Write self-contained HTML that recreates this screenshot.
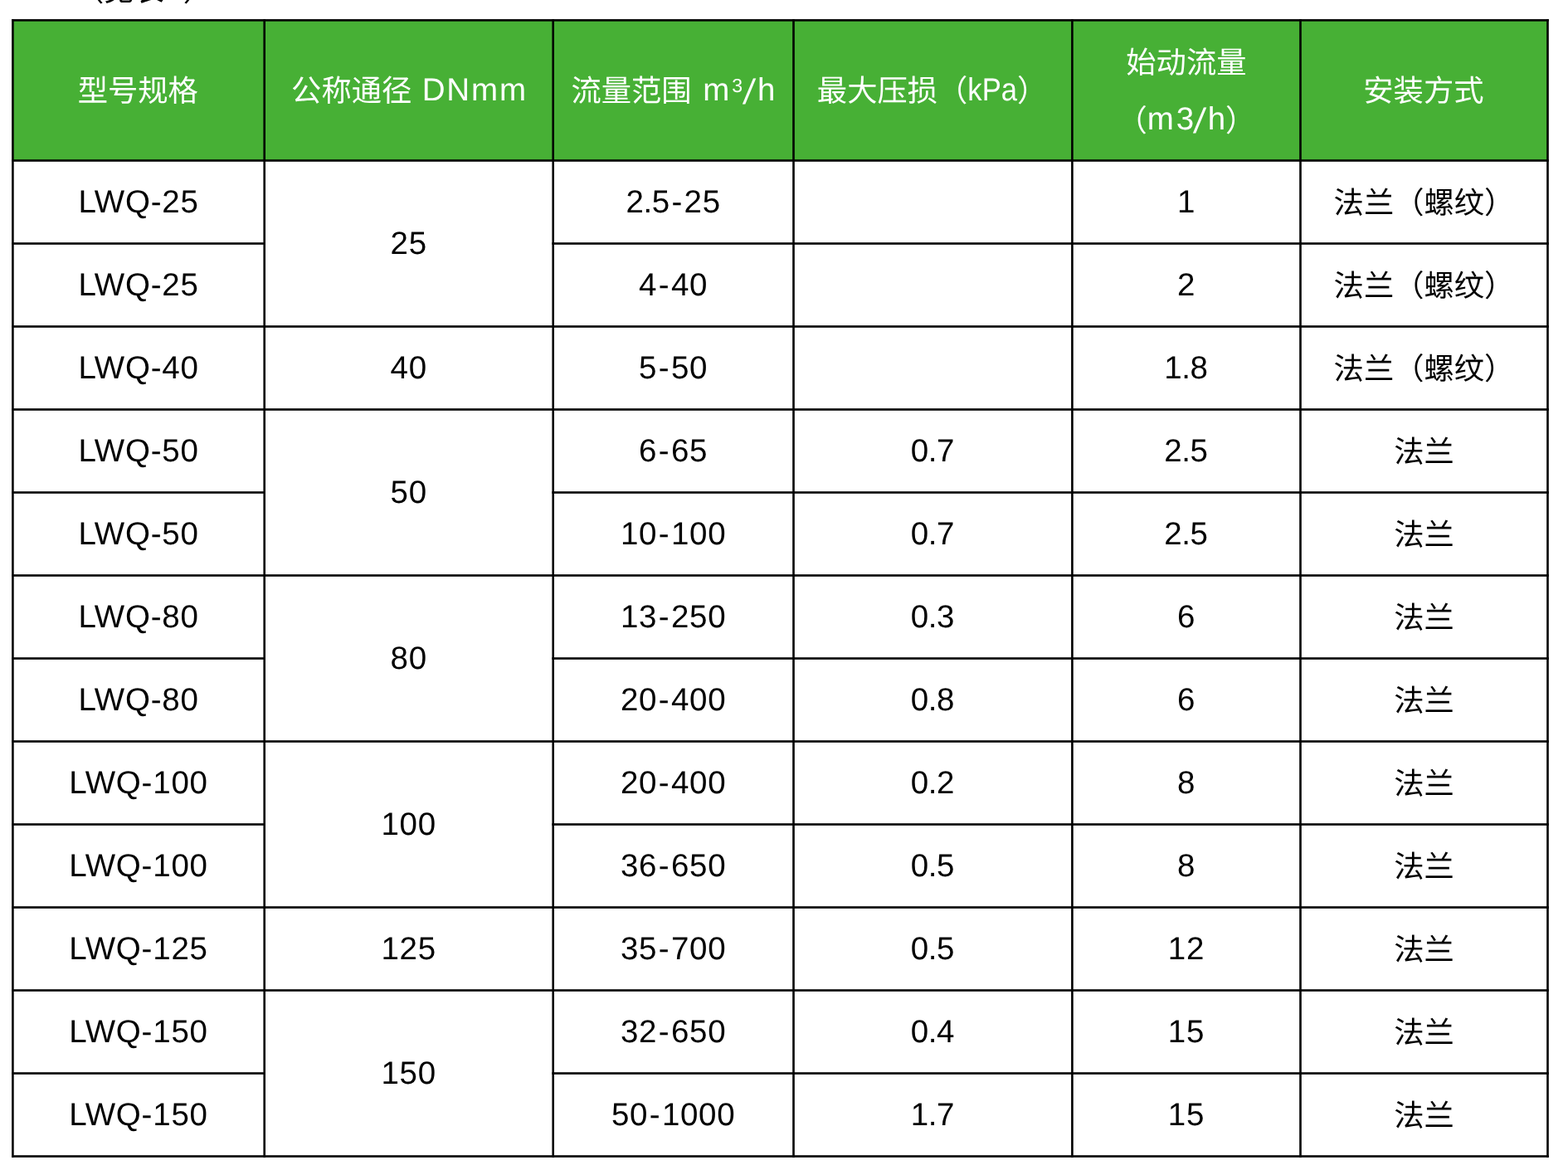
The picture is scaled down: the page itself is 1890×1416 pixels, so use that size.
<!DOCTYPE html>
<html lang="zh-CN">
<head>
<meta charset="utf-8">
<title>LWQ 气体涡轮流量计规格表</title>
<style>
html,body{margin:0;padding:0;background:#fff}
body{position:relative;width:1890px;height:1416px;overflow:hidden;font-family:"Liberation Sans",sans-serif;color:#000;font-size:38.5px;line-height:70px;text-rendering:geometricPrecision}
.cj{display:inline-block;position:relative;vertical-align:-1px;line-height:46px;font-size:36.3px;letter-spacing:0;white-space:nowrap;font-family:"Liberation Sans","Noto Sans CJK SC",sans-serif}
.note{position:absolute;left:89px;top:-48.00px;margin:0;white-space:nowrap;line-height:70px}
table,.note{will-change:transform}
table{position:absolute;left:15.00px;top:24.00px;width:1850.50px;border-collapse:collapse;border-spacing:0;table-layout:fixed}
th,td{padding:0;margin:0;border:0;text-align:center;vertical-align:middle;font-weight:normal;white-space:nowrap;overflow:visible}
thead tr{height:169.50px}
tbody tr{height:100px}
th{background:#47b035;color:#fff}
tr>:first-child{padding-left:0.40px}
thead th{padding-top:0.40px}
.t{letter-spacing:0.8px;margin-right:-0.1px;position:relative;top:0.3px}
.n{letter-spacing:0.7px;margin-right:-0.1px}
.hy{margin:0 1.6px}
.dot{margin:0 -1.2px}
.l{position:relative;top:0.2px}
.sl{display:inline-block;font-size:42px;line-height:0;position:relative;top:3.6px;letter-spacing:0;transform:skewX(-8.5deg)}
td .cj{top:0.5px}
th .cj{top:0.2px}
th.two .cj{top:1px}
.note .cj{top:0.9px}
.c1{margin-right:1.6px}
.c4{margin-right:1.6px}
.c6{margin-right:1.2px}
.l1{letter-spacing:1.87px;margin-left:12.4px;margin-right:-1.65px}
.l2{letter-spacing:0;margin-left:13.6px;margin-right:0.4px}
.l2 sup{margin:0 2.35px 0 2.9px}
.l2 .sl{margin-right:4px}
.l3{display:inline-block;transform:scaleX(.9);margin:0 -3.3px;letter-spacing:0}
.l4{letter-spacing:2.9px;margin-right:-2.9px}
.l4 .sl{letter-spacing:0;margin-left:-1.9px;margin-right:3.8px}
.l5{letter-spacing:0;margin-right:1.5px}
sup{font-size:23px;line-height:0;vertical-align:10.2px}
svg.grid{position:absolute;left:0;top:0;width:1890px;height:1416px;pointer-events:none}
</style>
</head>
<body>
<p class="note"><span class="cj">（见表</span><span class="l l5">1</span><span class="cj">）</span></p>
<table>
<colgroup><col style="width:303.70px"><col style="width:348.00px"><col style="width:289.80px"><col style="width:335.90px"><col style="width:275.10px"><col style="width:298.00px"></colgroup>
<thead>
<tr><th><span class="cj c1">型号规格</span></th><th><span class="cj">公称通径</span><span class="l l1">DNmm</span></th><th><span class="cj">流量范围</span><span class="l l2">m<sup>3</sup><span class="sl">/</span>h</span></th><th><span class="cj">最大压损（</span><span class="l l3">kPa</span><span class="cj c4">）</span></th><th class="two"><span class="cj">始动流量</span><br><span class="cj">（</span><span class="l l4">m3<span class="sl">/</span>h</span><span class="cj">）</span></th><th><span class="cj c6">安装方式</span></th></tr>
</thead>
<tbody>
<tr><td><span class="t">LWQ-25</span></td><td rowspan="2"><span class="t">25</span></td><td><span class="t n">2<span class="dot">.</span>5<span class="hy">-</span>25</span></td><td></td><td><span class="t n">1</span></td><td><span class="cj">法兰（螺纹）</span></td></tr>
<tr><td><span class="t">LWQ-25</span></td><td><span class="t n">4<span class="hy">-</span>40</span></td><td></td><td><span class="t n">2</span></td><td><span class="cj">法兰（螺纹）</span></td></tr>
<tr><td><span class="t">LWQ-40</span></td><td><span class="t">40</span></td><td><span class="t n">5<span class="hy">-</span>50</span></td><td></td><td><span class="t n">1<span class="dot">.</span>8</span></td><td><span class="cj">法兰（螺纹）</span></td></tr>
<tr><td><span class="t">LWQ-50</span></td><td rowspan="2"><span class="t">50</span></td><td><span class="t n">6<span class="hy">-</span>65</span></td><td><span class="t n">0<span class="dot">.</span>7</span></td><td><span class="t n">2<span class="dot">.</span>5</span></td><td><span class="cj">法兰</span></td></tr>
<tr><td><span class="t">LWQ-50</span></td><td><span class="t n">10<span class="hy">-</span>100</span></td><td><span class="t n">0<span class="dot">.</span>7</span></td><td><span class="t n">2<span class="dot">.</span>5</span></td><td><span class="cj">法兰</span></td></tr>
<tr><td><span class="t">LWQ-80</span></td><td rowspan="2"><span class="t">80</span></td><td><span class="t n">13<span class="hy">-</span>250</span></td><td><span class="t n">0<span class="dot">.</span>3</span></td><td><span class="t n">6</span></td><td><span class="cj">法兰</span></td></tr>
<tr><td><span class="t">LWQ-80</span></td><td><span class="t n">20<span class="hy">-</span>400</span></td><td><span class="t n">0<span class="dot">.</span>8</span></td><td><span class="t n">6</span></td><td><span class="cj">法兰</span></td></tr>
<tr><td><span class="t">LWQ-100</span></td><td rowspan="2"><span class="t">100</span></td><td><span class="t n">20<span class="hy">-</span>400</span></td><td><span class="t n">0<span class="dot">.</span>2</span></td><td><span class="t n">8</span></td><td><span class="cj">法兰</span></td></tr>
<tr><td><span class="t">LWQ-100</span></td><td><span class="t n">36<span class="hy">-</span>650</span></td><td><span class="t n">0<span class="dot">.</span>5</span></td><td><span class="t n">8</span></td><td><span class="cj">法兰</span></td></tr>
<tr><td><span class="t">LWQ-125</span></td><td><span class="t">125</span></td><td><span class="t n">35<span class="hy">-</span>700</span></td><td><span class="t n">0<span class="dot">.</span>5</span></td><td><span class="t n">12</span></td><td><span class="cj">法兰</span></td></tr>
<tr><td><span class="t">LWQ-150</span></td><td rowspan="2"><span class="t">150</span></td><td><span class="t n">32<span class="hy">-</span>650</span></td><td><span class="t n">0<span class="dot">.</span>4</span></td><td><span class="t n">15</span></td><td><span class="cj">法兰</span></td></tr>
<tr><td><span class="t">LWQ-150</span></td><td><span class="t n">50<span class="hy">-</span>1000</span></td><td><span class="t n">1<span class="dot">.</span>7</span></td><td><span class="t n">15</span></td><td><span class="cj">法兰</span></td></tr>
</tbody>
</table>
<svg class="grid" viewBox="0 0 1890 1416" aria-hidden="true" fill="#000"><rect x="14.10" y="23.10" width="1852.70" height="2.60"/><rect x="14.10" y="192.20" width="1852.70" height="2.60"/><rect x="14.10" y="292.20" width="305.90" height="2.60"/><rect x="665.40" y="292.20" width="1201.40" height="2.60"/><rect x="14.10" y="392.20" width="1852.70" height="2.60"/><rect x="14.10" y="492.20" width="1852.70" height="2.60"/><rect x="14.10" y="592.20" width="305.90" height="2.60"/><rect x="665.40" y="592.20" width="1201.40" height="2.60"/><rect x="14.10" y="692.20" width="1852.70" height="2.60"/><rect x="14.10" y="792.20" width="305.90" height="2.60"/><rect x="665.40" y="792.20" width="1201.40" height="2.60"/><rect x="14.10" y="892.20" width="1852.70" height="2.60"/><rect x="14.10" y="992.20" width="305.90" height="2.60"/><rect x="665.40" y="992.20" width="1201.40" height="2.60"/><rect x="14.10" y="1092.20" width="1852.70" height="2.60"/><rect x="14.10" y="1192.20" width="1852.70" height="2.60"/><rect x="14.10" y="1292.20" width="305.90" height="2.60"/><rect x="665.40" y="1292.20" width="1201.40" height="2.60"/><rect x="14.10" y="1392.20" width="1852.70" height="2.60"/><rect x="14.10" y="23.10" width="2.60" height="1371.70"/><rect x="317.40" y="23.10" width="2.60" height="1371.70"/><rect x="665.40" y="23.10" width="2.60" height="1371.70"/><rect x="955.20" y="23.10" width="2.60" height="1371.70"/><rect x="1291.10" y="23.10" width="2.60" height="1371.70"/><rect x="1566.20" y="23.10" width="2.60" height="1371.70"/><rect x="1864.20" y="23.10" width="2.60" height="1371.70"/></svg>
</body>
</html>
